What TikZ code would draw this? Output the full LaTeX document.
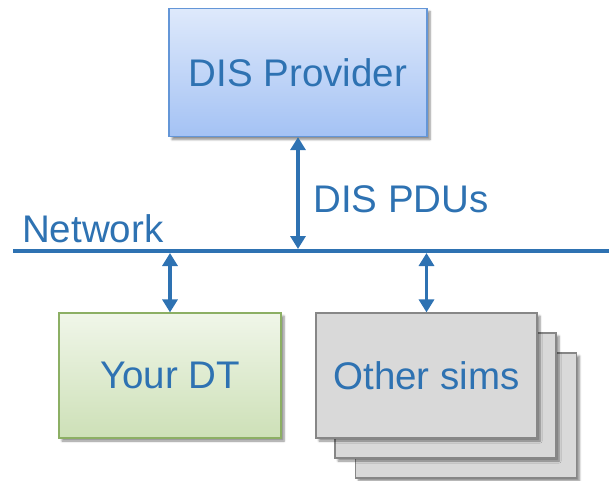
\documentclass[tikz,border=0pt]{standalone}
\usepackage{fontspec}
\setmainfont{Liberation Sans}
\usetikzlibrary{arrows.meta,shadows.blur}
\definecolor{txtblue}{RGB}{46,114,178}
\definecolor{lineblue}{RGB}{46,114,178}
\definecolor{disTop}{RGB}{222,233,251}
\definecolor{disBot}{RGB}{164,194,244}
\definecolor{disBorder}{RGB}{100,150,215}
\definecolor{dtTop}{RGB}{240,246,233}
\definecolor{dtBot}{RGB}{205,224,183}
\definecolor{dtBorder}{RGB}{140,175,100}
\definecolor{simFill}{RGB}{217,217,217}
\definecolor{simBorder}{RGB}{135,135,135}
\tikzset{
  boxbase/.style={rectangle, inner sep=0pt, line width=1.2pt, text=txtblue,
    font=\fontsize{38.5}{42}\selectfont,
    blur shadow={shadow xshift=3pt, shadow yshift=-3pt, shadow blur steps=6, shadow opacity=45}},
  disbox/.style={boxbase, draw=disBorder, top color=disTop, bottom color=disBot,
    minimum width=258pt, minimum height=128pt},
  dtbox/.style={boxbase, draw=dtBorder, top color=dtTop, bottom color=dtBot,
    minimum width=222pt, minimum height=125pt},
  simbox/.style={boxbase, draw=simBorder, fill=simFill,
    minimum width=221pt, minimum height=125pt},
  biarrow/.style={lineblue, line width=3.2pt,
    {Triangle[width=15pt,length=13pt]}-{Triangle[width=15pt,length=13pt]}},
  lbl/.style={text=txtblue, font=\fontsize{38.5}{42}\selectfont, inner sep=0pt}
}
\begin{document}
\begin{tikzpicture}[x=1pt,y=-1pt]
\useasboundingbox (0,0) rectangle (609,480);
% network line
\coordinate (nl) at (13,251);
\coordinate (nr) at (609,251);
\draw[lineblue, line width=4pt] (nl) -- (nr);
\node[lbl, anchor=base west] (netlbl) at (22,242) {Network};
% DIS Provider
\node[disbox] (dis) at (298,72.5) {DIS Provider};
\node[lbl, anchor=base west] (pdus) at (313,212) {DIS PDUs};
% Your DT
\node[dtbox] (dt) at (170,375.5) {Your DT};
% Other sims stack
\node[simbox] (os3) at (466,415.5) {};
\node[simbox] (os2) at (445.5,395.5) {};
\node[simbox] (os1) at (426.5,375.5) {Other sims};
% arrows
\draw[biarrow, shorten >=2pt] (dis.south) -- (dis.south |- nl);
\draw[biarrow, shorten <=2pt] (dt.north |- nl) -- (dt.north);
\draw[biarrow, shorten <=2pt] (os1.north |- nl) -- (os1.north);
\end{tikzpicture}
\end{document}
